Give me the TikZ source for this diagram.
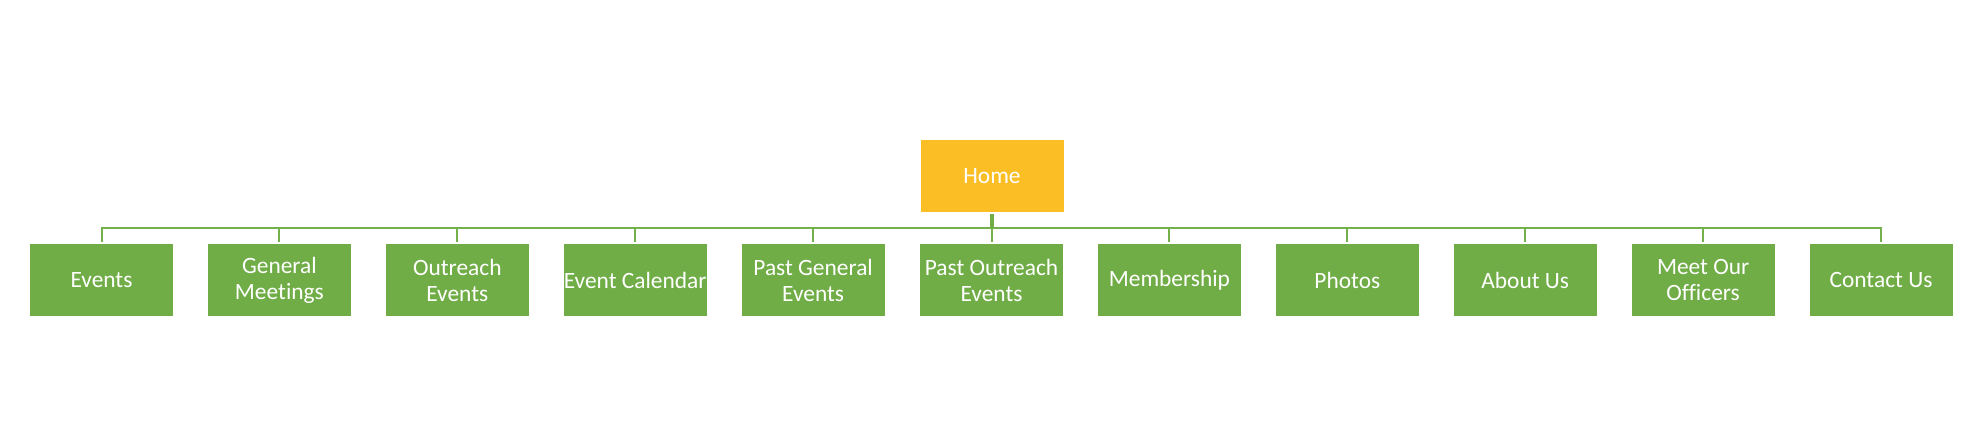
\documentclass[tikz,border=0pt]{standalone}
\usepackage{fontspec}
\setmainfont{Carlito}[Ligatures=NoCommon]
\usetikzlibrary{calc}
\definecolor{boxgreen}{HTML}{70AD47}
\definecolor{linegreen}{HTML}{74B04C}
\definecolor{homegold}{HTML}{FCBE25}
\tikzset{
  pagebox/.style={fill=boxgreen, draw=none, minimum width=71.5pt, minimum height=36pt,
    inner sep=0pt, text=white, align=center, font=\fontsize{11.7pt}{13pt}\selectfont},
  homebox/.style={pagebox, fill=homegold},
  link/.style={draw=linegreen, line width=1pt},
  stem/.style={draw=boxgreen, line width=2pt},
}
\begin{document}
\begin{tikzpicture}[x=0.5pt, y=-0.5pt]
\useasboundingbox (0,0) rectangle (1984,446);
\node[homebox] (home) at (992,176) {Home};
\node[pagebox] (c1)  at (101.5,280) {Events};
\node[pagebox] (c2)  at (279.4,280) {General\\Meetings};
\node[pagebox] (c3)  at (457.3,280) {Outreach\\Events};
\node[pagebox] (c4)  at (635.2,280) {Event Calendar};
\node[pagebox] (c5)  at (813.1,280) {Past General\\Events};
\node[pagebox] (c6)  at (991.5,280) {Past Outreach\\Events};
\node[pagebox] (c7)  at (1169.4,280) {Membership};
\node[pagebox] (c8)  at (1347.3,280) {Photos};
\node[pagebox] (c9)  at (1525.2,280) {About Us};
\node[pagebox] (c10) at (1703.1,280) {Meet Our\\Officers};
\node[pagebox] (c11) at (1881,280) {Contact Us};
\coordinate (bus) at ($(home.south)+(0,16)$);
\foreach \i in {1,...,11}{
  \draw[link] ($(home.south)+(0,2)$) -- (bus) -| ($(c\i.north)+(0,-2)$);
}
\draw[stem] ($(home.south)+(0,2)$) -- (bus);
\end{tikzpicture}
\end{document}
